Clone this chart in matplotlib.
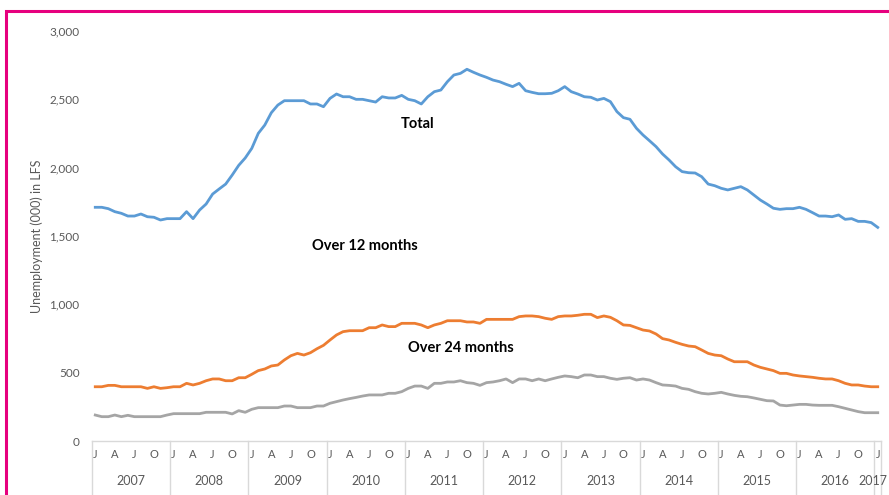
import matplotlib
matplotlib.use("Agg")
import matplotlib.pyplot as plt
import matplotlib.transforms as mtransforms
from matplotlib.patches import Rectangle

# ---- data (thousands), monthly Jan 2007 .. Jan 2017 ----
years = ["2007", "2008", "2009", "2010", "2011", "2012", "2013", "2014", "2015", "2016", "2017"]
month_letters = ["J", "A", "J", "O"]

total = [1710, 1710, 1700, 1678, 1666, 1646, 1646, 1661, 1641, 1637, 1617, 1627,
         1627, 1627, 1678, 1627, 1690, 1734, 1807, 1844, 1880, 1946, 2017, 2071,
         2141, 2251, 2312, 2402, 2458, 2490, 2490, 2490, 2490, 2466, 2466, 2446,
         2507, 2539, 2519, 2519, 2500, 2500, 2490, 2480, 2519, 2510, 2510, 2529,
         2500, 2490, 2466, 2519, 2556, 2568, 2629, 2678, 2690, 2720, 2698, 2678,
         2661, 2641, 2629, 2610, 2593, 2617, 2563, 2551, 2541, 2541, 2544, 2563,
         2593, 2556, 2539, 2519, 2515, 2495, 2507, 2483, 2410, 2366, 2354, 2288,
         2239, 2197, 2154, 2100, 2056, 2007, 1971, 1963, 1961, 1934, 1880, 1868,
         1849, 1837, 1849, 1861, 1837, 1800, 1763, 1734, 1703, 1695, 1700, 1700,
         1710, 1695, 1671, 1646, 1646, 1641, 1654, 1622, 1627, 1607, 1607, 1598,
         1563]

over12 = [397, 397, 407, 407, 397, 397, 397, 397, 385, 397, 385, 390,
          397, 397, 422, 410, 422, 441, 454, 454, 441, 441, 463, 463,
          488, 515, 527, 549, 556, 593, 624, 641, 629, 646, 675, 700,
          739, 776, 800, 807, 807, 807, 829, 829, 849, 837, 837, 861,
          861, 861, 849, 829, 849, 861, 880, 880, 880, 871, 871, 861,
          890, 890, 890, 890, 890, 910, 915, 915, 910, 898, 890, 910,
          915, 915, 920, 927, 927, 903, 915, 905, 880, 849, 846, 829,
          812, 805, 783, 749, 739, 722, 707, 695, 690, 666, 641, 629,
          624, 600, 580, 580, 580, 556, 539, 527, 515, 495, 495, 483,
          476, 471, 466, 459, 454, 454, 441, 422, 410, 410, 402, 397,
          397]

over24 = [190, 178, 178, 190, 178, 188, 178, 178, 178, 178, 178, 190,
          200, 200, 200, 200, 200, 210, 210, 210, 210, 198, 222, 210,
          232, 244, 244, 244, 244, 256, 256, 244, 244, 244, 256, 256,
          276, 288, 300, 310, 319, 329, 337, 337, 337, 349, 349, 361,
          385, 402, 402, 385, 422, 422, 432, 432, 441, 427, 422, 407,
          427, 432, 441, 454, 427, 454, 454, 441, 454, 441, 454, 466,
          476, 471, 463, 483, 483, 471, 471, 459, 451, 459, 463, 446,
          454, 446, 427, 410, 407, 402, 385, 378, 361, 349, 344, 349,
          356, 344, 334, 327, 324, 315, 305, 295, 293, 263, 258, 263,
          268, 268, 263, 261, 261, 261, 251, 239, 227, 215, 207, 207,
          207]

series_labels = ["Total", "Over 12 months", "Over 24 months"]

# ---- figure ----
W, H = 889, 495
fig = plt.figure(figsize=(W / 100, H / 100), dpi=100)
plt.rcParams['font.family'] = ['Lato', 'DejaVu Sans']

# magenta frame (cut at right and bottom)
fig.patches.append(Rectangle((6 / W, -0.05), 1.2, (H - 11) / H + 0.05,
                             transform=fig.transFigure, fill=False,
                             edgecolor="#E6007E", linewidth=2.2))

ax = fig.add_axes([92 / W, (H - 441) / H, 789 / W, 410 / H])

n = len(total)
x = list(range(n))
ax.plot(x, total, color="#5B9BD5", lw=2.0, solid_joinstyle="round")
ax.plot(x, over12, color="#ED7D31", lw=2.0, solid_joinstyle="round")
ax.plot(x, over24, color="#A5A5A5", lw=2.0, solid_joinstyle="round")

ax.set_xlim(-0.5, n - 0.5)
ax.set_ylim(0, 3000)
ax.set_yticks(range(0, 3001, 500))
ax.set_yticklabels([f"{v:,}" for v in range(0, 3001, 500)])
ax.tick_params(axis="y", length=0, pad=9, labelsize=8.5, labelcolor="#595959")

for s in ["top", "right", "left"]:
    ax.spines[s].set_visible(False)
ax.spines["bottom"].set_color("#D9D9D9")
ax.spines["bottom"].set_linewidth(1.0)

# month ticks J A J O every quarter
tick_pos = [i for i in range(n) if i % 3 == 0]
tick_lab = [month_letters[(i % 12) // 3] for i in tick_pos]
ax.set_xticks(tick_pos)
ax.set_xticklabels(tick_lab)
ax.tick_params(axis="x", length=0, pad=6, labelsize=8, labelcolor="#595959")

# year grouping
trans = mtransforms.blended_transform_factory(ax.transData, ax.transAxes)
bounds = list(range(0, n, 12)) + [n]
for b in bounds:
    ax.plot([b - 0.5, b - 0.5], [0, -0.15], transform=trans, color="#D9D9D9",
            lw=1.0, clip_on=False)
for k, yr in enumerate(years):
    start = bounds[k]
    end = bounds[k + 1]
    t = trans
    if k == len(years) - 1:
        t = trans + mtransforms.ScaledTranslation(-4.5 / 100, 0, fig.dpi_scale_trans)
    ax.text((start + end - 1) / 2, -0.098, yr, transform=t, ha="center",
            va="center", fontsize=9, color="#595959")

ax.set_ylabel("Unemployment (000) in LFS", fontsize=9, color="#595959")
ax.yaxis.set_label_coords(-0.062, 0.5)

# series annotations
ax.text(49.5, 2320, series_labels[0], ha="center", va="center", fontsize=10.5,
        fontweight="bold", color="black")
ax.text(41.3, 1427, series_labels[1], ha="center", va="center", fontsize=10.5,
        fontweight="bold", color="black")
ax.text(56.1, 680, series_labels[2], ha="center", va="center", fontsize=10.5,
        fontweight="bold", color="black")

fig.savefig("out.png", dpi=100)
